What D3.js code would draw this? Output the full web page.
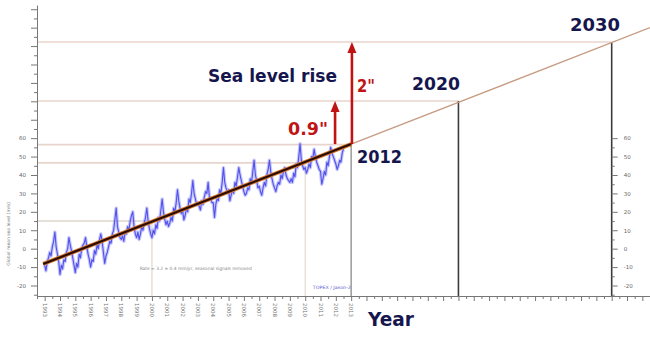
<!DOCTYPE html>
<html>
<head>
<meta charset="utf-8">
<script src="https://cdn.jsdelivr.net/npm/d3@7"></script>
<style>
body { margin: 0; background: #fff; }
svg { display: block; }
text { font-family: "Comic Sans MS", "DejaVu Sans", sans-serif; }
</style>
</head>
<body>
<svg id="chart"></svg>
<script>
// monthly sea level record (mm), one row per year from 1993
var seaStart = 1993.0
var seaStep = 1 / 12
var seaLevels = [
	-9, -12, -7, -5, -2, -4, 1, 4, 9, 1, -3, -7,
	-14, -9, -11, -6, -7, -2, 0, 6, 2, -1, -5, -9,
	-13, -8, -10, -3, -5, 0, 2, 3, 6, 1, -3, -6,
	-10, -6, -7, -1, -3, 2, 0, 5, 8, 4, -2, -8,
	-4, -2, 1, 4, 3, 8, 10, 16, 22, 12, 9, 6,
	5, 7, 4, 9, 8, 12, 10, 15, 18, 20, 12, 8,
	6, 9, 5, 8, 12, 10, 14, 17, 22, 15, 11, 8,
	6, 10, 8, 13, 11, 17, 15, 21, 27, 20, 16, 13,
	15, 12, 14, 17, 15, 22, 20, 25, 32, 26, 22, 19,
	21, 15.6, 18, 22, 20, 27, 25, 30, 37, 30, 27, 24,
	25, 23, 21, 26, 24, 28, 31, 30, 36, 28, 27, 25,
	25, 17, 24, 27, 26, 32, 30, 36, 44, 36, 33, 31,
	32, 26, 29, 32, 30, 36, 34, 39, 44, 40, 37, 34,
	31, 29, 30, 33, 32, 38, 36, 42, 48, 40, 37, 33,
	34, 31, 29, 33, 36, 34, 40, 43, 48, 42, 38, 35,
	33, 31, 34, 36, 35, 40, 38, 42, 44, 40, 38, 37,
	36, 38, 36, 41, 39, 46, 44, 50, 57, 48, 45, 43,
	44, 41, 43, 46, 44, 50, 49, 54, 50, 47, 45, 43,
	42, 35, 38, 42, 40, 47, 45, 50, 55, 52, 50, 48,
	46, 43, 45, 48, 47, 52, 54]

// linear trend and its projection
var trendYears = [1992.9, 2013, 2032.5]
var trendLevels = [-8.3, 56.8, 120]

// reference lines: level reached at year
var guideYears = [2000, 2010, 2013, 2020, 2030]
var guideLevels = [15, 46.6, 56.5, 80.2, 112.2]

// rise arrows
var arrowYears = [2011.95, 2013.05]
var arrowFrom = [56.8, 56.8]
var arrowTo = [80.2, 112.2]
var arrowLabels = ['0.9"', '2"']

var axisLabelYears = d3.range(1993, 2014)
var leftTicks = d3.range(-25, 131, 5)
var rightTicks = d3.range(-25, 61, 5)
var xTicks = d3.range(1992.5, 2032.6, 0.5)

var width = 650, height = 351
var svg = d3.select("#chart").attr("width", width).attr("height", height)

var x = d3.scaleLinear().domain([1992.5, 2032.5]).range([37, 650])
var y = d3.scaleLinear().domain([-25.7, 132.3]).range([296, 5])
var yBase = y.range()[0]

var navy = "#16164e", red = "#c01414"

// guide lines
var hColor = ["#ddd6cc", "#e8d4cc", "#e8d4cc", "#e8d4cc", "#e8d4cc"]
var vColor = ["#d8d0c0", "#ddd2c2", "#9a9a9a", "#3c3c3c", "#3c3c3c"]
var vWidth = [1, 1, 1.5, 1.6, 1.6]
var guides = guideYears.map((g, i) => ({year: g, level: guideLevels[i], i: i}))

svg.selectAll(".hguide").data(guides).join("line").classed("hguide", true)
	.attr("x1", x.range()[0]).attr("x2", d => x(d.year))
	.attr("y1", d => y(d.level)).attr("y2", d => y(d.level))
	.attr("stroke", d => hColor[d.i]).attr("stroke-width", 1.6)

svg.selectAll(".vguide").data(guides).join("line").classed("vguide", true)
	.attr("x1", d => x(d.year)).attr("x2", d => x(d.year))
	.attr("y1", d => y(d.level)).attr("y2", yBase)
	.attr("stroke", d => vColor[d.i]).attr("stroke-width", d => vWidth[d.i])

// left axis
var leftAxis = d3.axisLeft(y).tickValues(leftTicks).tickSizeOuter(0)
	.tickFormat(d => (d % 10 == 0 && d >= -20 && d <= 60) ? d : "")
var gl = svg.append("g").attr("transform", `translate(${x.range()[0]},0)`).call(leftAxis)
gl.selectAll("line").attr("x2", d => d % 10 == 0 ? -6 : -3)
gl.selectAll("text").attr("x", -11).style("font-size", "5.5px").style("font-family", "DejaVu Sans")
gl.selectAll("path, line").attr("stroke", "#777")
gl.selectAll("text").attr("fill", "#666")

// right axis (at 2030)
var rightAxis = d3.axisRight(y).tickValues(rightTicks).tickSizeOuter(0)
	.tickFormat(d => (d % 10 == 0 && d >= -20) ? d : "")
var gr = svg.append("g").attr("transform", `translate(${x(2030)},0)`).call(rightAxis)
gr.select(".domain").remove()
gr.selectAll("line").attr("x2", d => d % 10 == 0 ? 6 : 3).attr("stroke", "#777")
gr.selectAll("text").attr("x", 12).style("font-size", "5.5px").style("font-family", "DejaVu Sans").attr("fill", "#666")

// bottom axis
var bottomAxis = d3.axisBottom(x).tickValues(xTicks).tickSizeOuter(0).tickFormat("")
var gb = svg.append("g").attr("transform", `translate(0,${yBase})`).call(bottomAxis)
gb.selectAll("line").attr("y2", d => d % 1 == 0 ? 5 : 3)
gb.selectAll("path, line").attr("stroke", "#777")

svg.selectAll(".yrlab").data(axisLabelYears).join("text").classed("yrlab", true)
	.attr("transform", d => `translate(${x(d) - 2},${yBase + 7}) rotate(90)`)
	.style("font-size", "5.5px").style("font-family", "DejaVu Sans")
	.attr("fill", "#777").text(d => d)

svg.append("text")
	.attr("transform", `translate(10,${y(8)}) rotate(-90)`)
	.attr("text-anchor", "middle")
	.style("font-size", "4.5px").style("font-family", "DejaVu Sans").attr("fill", "#777")
	.text("Global mean sea level (mm)")

svg.append("text").attr("x", x(1999.2)).attr("y", y(-11.5))
	.attr("textLength", 112).attr("lengthAdjust", "spacingAndGlyphs")
	.style("font-size", "4.5px").style("font-family", "DejaVu Sans").attr("fill", "#888")
	.text("Rate = 3.2 ± 0.4 mm/yr, seasonal signals removed")

svg.append("text").attr("x", x(2010.5)).attr("y", y(-22))
	.attr("textLength", 38).attr("lengthAdjust", "spacingAndGlyphs")
	.style("font-size", "4.5px").style("font-family", "DejaVu Sans").attr("fill", "#5a5ad0")
	.text("TOPEX / Jason-2")

// sea level series
var sea = seaLevels.map((v, i) => [seaStart + i * seaStep, v])
var seaLine = d3.line().x(d => x(d[0])).y(d => y(d[1]))

svg.append("path").datum(sea).attr("d", seaLine)
	.attr("fill", "none").attr("stroke", "#8c8cff").attr("stroke-width", 3.4)
	.attr("stroke-opacity", 0.5).attr("stroke-linejoin", "round")
svg.append("path").datum(sea).attr("d", seaLine)
	.attr("fill", "none").attr("stroke", "#5252e8").attr("stroke-width", 1.1)
	.attr("stroke-linejoin", "round")

// trend
var trend = trendYears.map((t, i) => [t, trendLevels[i]])
var trendLine = d3.line().x(d => x(d[0])).y(d => y(d[1]))
svg.append("path").datum(trend.slice(1)).attr("d", trendLine)
	.attr("fill", "none").attr("stroke", "#c79a82").attr("stroke-width", 1.3)
svg.append("path").datum(trend.slice(0, 2)).attr("d", trendLine)
	.attr("fill", "none").attr("stroke", "#d8782e").attr("stroke-width", 4)
svg.append("path").datum(trend.slice(0, 2)).attr("d", trendLine)
	.attr("fill", "none").attr("stroke", "#2a0c04").attr("stroke-width", 2.2)

// arrows
var arrows = arrowYears.map((a, i) => ({year: a, from: arrowFrom[i], to: arrowTo[i], label: arrowLabels[i]}))
svg.selectAll(".arr").data(arrows).join("line").classed("arr", true)
	.attr("x1", d => x(d.year)).attr("x2", d => x(d.year))
	.attr("y1", d => y(d.from)).attr("y2", d => y(d.to) + 8)
	.attr("stroke", red).attr("stroke-width", 2.6)
svg.selectAll(".head").data(arrows).join("path").classed("head", true)
	.attr("d", d => {
		let cx = x(d.year), ty = y(d.to)
		return `M${cx},${ty}L${cx - 4.5},${ty + 11}L${cx + 4.5},${ty + 11}Z`
	})
	.attr("fill", red)

svg.append("text").attr("x", 288).attr("y", 135)
	.attr("textLength", 40).attr("lengthAdjust", "spacingAndGlyphs")
	.attr("fill", red).style("font-size", "17px").style("font-weight", "bold")
	.text(arrowLabels[0])
svg.append("text").attr("x", 357).attr("y", 92)
	.attr("textLength", 18).attr("lengthAdjust", "spacingAndGlyphs")
	.attr("fill", red).style("font-size", "17px").style("font-weight", "bold")
	.text(arrowLabels[1])

// annotations
function label(txt, xx, yy, len, size) {
	svg.append("text").attr("x", xx).attr("y", yy)
		.attr("textLength", len).attr("lengthAdjust", "spacingAndGlyphs")
		.attr("fill", navy).style("font-size", size + "px").style("font-weight", "bold")
		.text(txt)
}
label("Sea level rise", 208, 82, 129, 17)
label("2012", 357, 163, 45, 17)
label("2020", 412, 90, 48, 18)
label("2030", 570, 31, 50, 18)
label("Year", 368, 326, 46, 20)
</script>
</body>
</html>
